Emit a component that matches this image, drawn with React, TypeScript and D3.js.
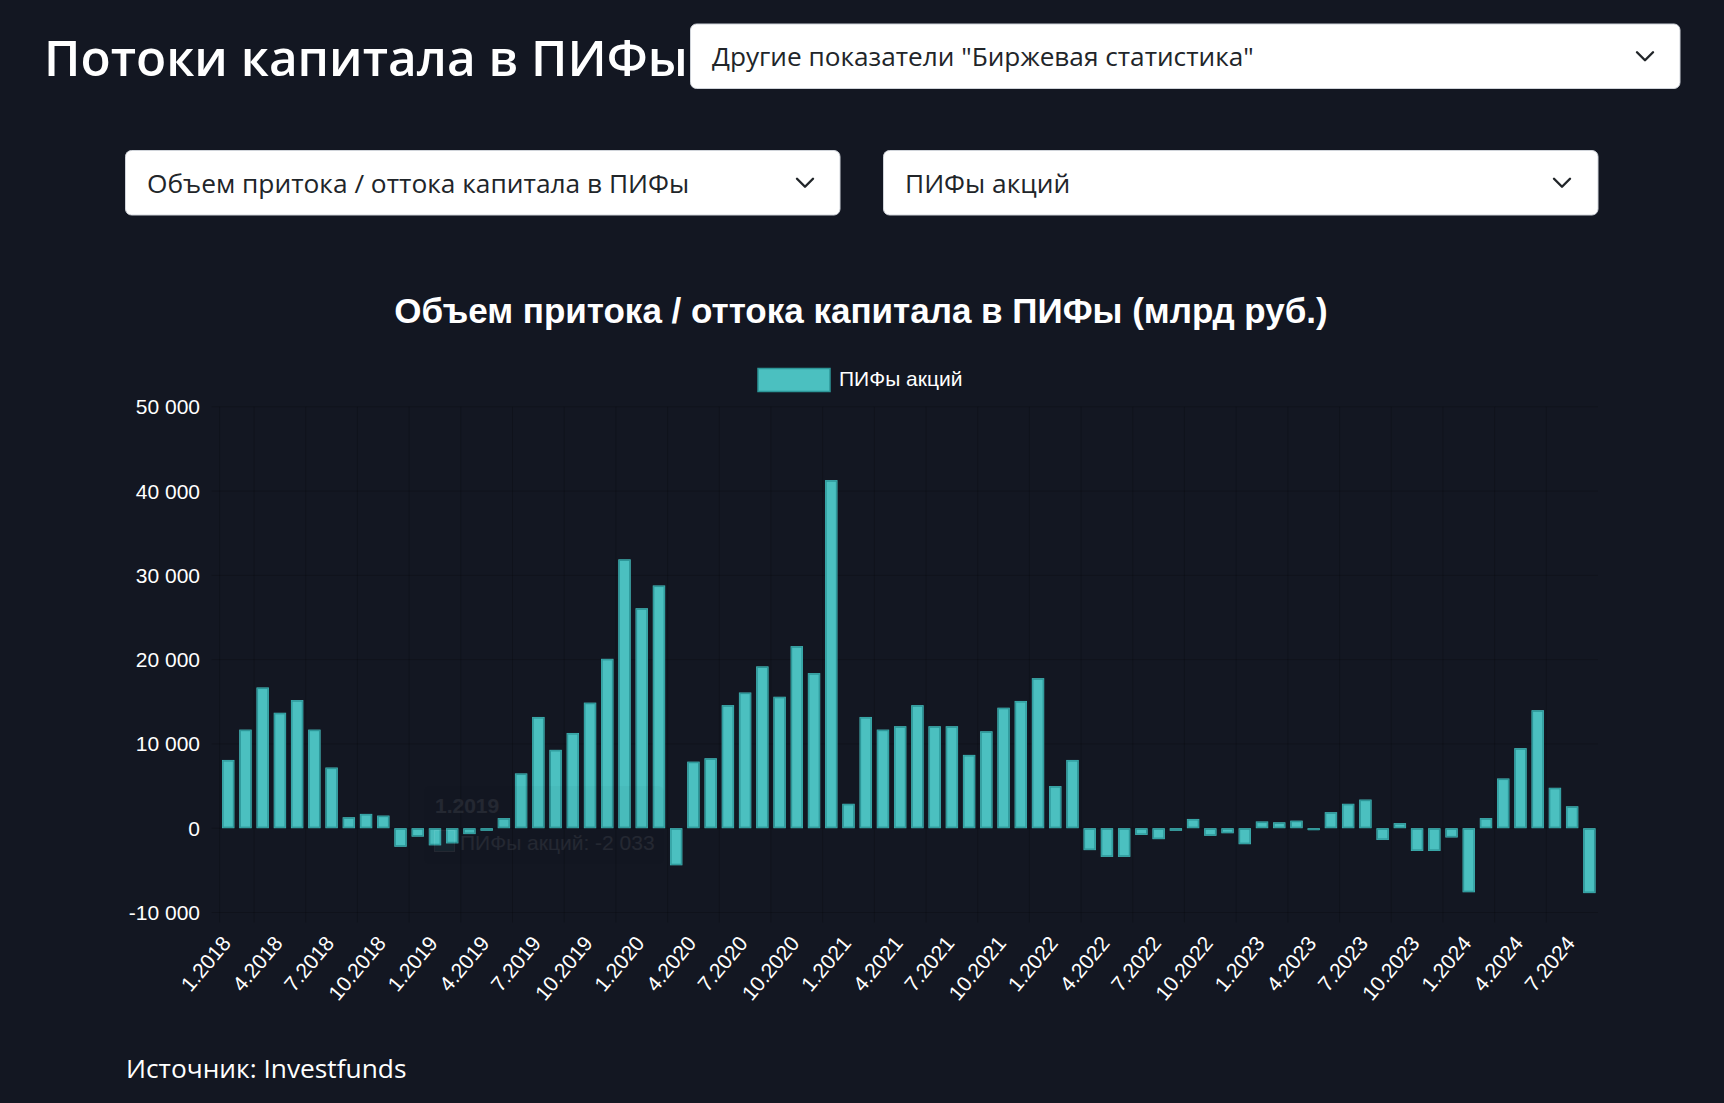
import React from "react";
import * as d3 from "d3";

const categories = [
  "1.2018","2.2018","3.2018","4.2018","5.2018","6.2018","7.2018","8.2018","9.2018","10.2018","11.2018","12.2018",
  "1.2019","2.2019","3.2019","4.2019","5.2019","6.2019","7.2019","8.2019","9.2019","10.2019","11.2019","12.2019",
  "1.2020","2.2020","3.2020","4.2020","5.2020","6.2020","7.2020","8.2020","9.2020","10.2020","11.2020","12.2020",
  "1.2021","2.2021","3.2021","4.2021","5.2021","6.2021","7.2021","8.2021","9.2021","10.2021","11.2021","12.2021",
  "1.2022","2.2022","3.2022","4.2022","5.2022","6.2022","7.2022","8.2022","9.2022","10.2022","11.2022","12.2022",
  "1.2023","2.2023","3.2023","4.2023","5.2023","6.2023","7.2023","8.2023","9.2023","10.2023","11.2023","12.2023",
  "1.2024","2.2024","3.2024","4.2024","5.2024","6.2024","7.2024","8.2024",
];

const equityFunds = [
  8100, 11700, 16700, 13700, 15200, 11700, 7200, 1300, 1700, 1500, -2200, -1000,
  -2033, -1800, -700, -300, 1200, 6500, 13200, 9300, 11300, 14900, 20100, 31900,
  26100, 28800, -4400, 7900, 8300, 14600, 16100, 19200, 15600, 21600, 18400, 41300,
  2900, 13200, 11700, 12100, 14600, 12100, 12100, 8700, 11500, 14300, 15100, 17800,
  5000, 8100, -2600, -3400, -3400, -800, -1300, -300, 1100, -900, -600, -1900,
  800, 700, 900, -200, 1900, 2900, 3400, -1400, 600, -2700, -2700, -1100,
  -7600, 1200, 5900, 9500, 14000, 4800, 2600, -7700,
];

const yTicks = [-10000, 0, 10000, 20000, 30000, 40000, 50000];

const pageTitle = "Потоки капитала в ПИФы";
const selectTop = "Другие показатели \"Биржевая статистика\"";
const selectMetric = "Объем притока / оттока капитала в ПИФы";
const selectFund = "ПИФы акций";
const chartTitle = "Объем притока / оттока капитала в ПИФы (млрд руб.)";
const seriesName = "ПИФы акций";
const sourceText = "Источник: Investfunds";
const tooltipIndex = 12;

const BG = "#131722";
const TEAL = "rgb(75,192,192)";
const TEAL_BORDER = "rgb(45,150,152)";

const fmt = d3.formatLocale({ decimal: ",", thousands: " ", grouping: [3], currency: ["", ""], minus: "-" }).format(",d");

function Select({ x, y, w, h, text, textX, chevX, fontSize }) {
  return (
    <g>
      <rect x={x} y={y} width={w} height={h} rx={6} fill="#fff" stroke="#d0d4da" strokeWidth={1} />
      <text x={textX} y={y + h / 2} dominantBaseline="central" fontFamily="'Open Sans', sans-serif" fontSize={fontSize} fill="#212529">{text}</text>
      <path d={`M${chevX - 8},${y + h / 2 - 4} L${chevX},${y + h / 2 + 4} L${chevX + 8},${y + h / 2 - 4}`} fill="none" stroke="#212529" strokeWidth={2.4} strokeLinecap="round" strokeLinejoin="round" />
    </g>
  );
}

export default function App() {
  const W = 1724, H = 1103;
  const left = 219.6, right = 1598, top = 406.8, bottom = 912.5;
  const x = d3.scaleBand<string>().domain(categories).range([left, right]).paddingInner(0.28).paddingOuter(0.14);
  const y = d3.scaleLinear().domain([-10000, 50000]).range([bottom, top]);
  const center = (c) => (x(c) as number) + x.bandwidth() / 2;
  const shown = categories.filter((_, i) => i % 3 === 0);
  const gridXs = shown.map((c, i) => (i === 0 ? null : (center(c) + center(shown[i - 1])) / 2)).filter((v) => v !== null) as number[];
  const y0 = y(0);

  return (
    <div style={{ position: "absolute", left: 0, top: 0, width: W, height: H, background: BG }}>
      <svg width={W} height={H} style={{ display: "block" }}>
        <rect x={0} y={0} width={W} height={H} fill={BG} />
        <text x={44} y={76} fontFamily="'Open Sans', sans-serif" fontWeight={600} fontSize={49.5} fill="#fff">{pageTitle}</text>
        <Select x={690.5} y={24} w={989.5} h={64.5} text={selectTop} textX={712} chevX={1645} fontSize={26.2} />
        <Select x={125.5} y={150.5} w={714.5} h={64.5} text={selectMetric} textX={147} chevX={805} fontSize={26.3} />
        <Select x={883.5} y={150.5} w={714.5} h={64.5} text={selectFund} textX={905} chevX={1562} fontSize={26.3} />

        <text x={861} y={323} textAnchor="middle" fontFamily="'Liberation Sans', Arial, sans-serif" fontWeight={700} fontSize={35} fill="#fff">{chartTitle}</text>

        <rect x={758} y={368.5} width={72} height={23} fill={TEAL} stroke={TEAL_BORDER} strokeWidth={1.5} />
        <text x={839} y={378} dominantBaseline="central" fontFamily="'Liberation Sans', Arial, sans-serif" fontSize={21} fill="#fff">{seriesName}</text>

        <g stroke="rgba(0,0,0,0.18)" strokeWidth={1}>
          {yTicks.map((t) => (
            <line key={t} x1={left - 8} x2={right} y1={y(t)} y2={y(t)} />
          ))}
          {gridXs.map((gx, i) => (
            <line key={i} x1={gx} x2={gx} y1={top} y2={bottom + 10} />
          ))}
          <line x1={left} x2={left} y1={top} y2={bottom + 10} />
        </g>

        {yTicks.map((t) => (
          <text key={t} x={200} y={y(t)} textAnchor="end" dominantBaseline="central" fontFamily="'Liberation Sans', Arial, sans-serif" fontSize={21} fill="#fff">{fmt(t)}</text>
        ))}

        {categories.map((c, i) => {
          const v = equityFunds[i];
          const bx = x(c) as number;
          const by = Math.min(y(v), y0);
          const bh = Math.max(Math.abs(y(v) - y0), 1);
          return (
            <g key={c}>
              <rect x={bx} y={by} width={x.bandwidth()} height={bh} fill={TEAL} />
              <rect x={bx + 1} y={by + 1} width={Math.max(x.bandwidth() - 2, 0)} height={Math.max(bh - 2, 0.5)} fill="none" stroke={TEAL_BORDER} strokeWidth={1.2} />
            </g>
          );
        })}

        {shown.map((c) => (
          <text key={c} transform={`translate(${center(c) - 2},939) rotate(-50)`} textAnchor="end" dominantBaseline="central" fontFamily="'Liberation Sans', Arial, sans-serif" fontSize={21} fill="#fff">{c}</text>
        ))}

        <g opacity={0.07}>
          <rect x={424} y={786} width={240} height={78} rx={6} fill="rgba(0,0,0,0.35)" />
          <text x={435} y={813} fontFamily="'Liberation Sans', Arial, sans-serif" fontWeight={700} fontSize={21} fill="#fff">{categories[tooltipIndex]}</text>
          <rect x={434} y={830} width={21} height={22} fill="#fff" />
          <rect x={435} y={831} width={19} height={20} fill={TEAL} />
          <text x={460} y={850} fontFamily="'Liberation Sans', Arial, sans-serif" fontSize={21} fill="#fff">{`${seriesName}: ${fmt(equityFunds[tooltipIndex])}`}</text>
        </g>

        <text x={126} y={1078} fontFamily="'Open Sans', sans-serif" fontSize={26.3} fill="#fff">{sourceText}</text>
      </svg>
    </div>
  );
}
